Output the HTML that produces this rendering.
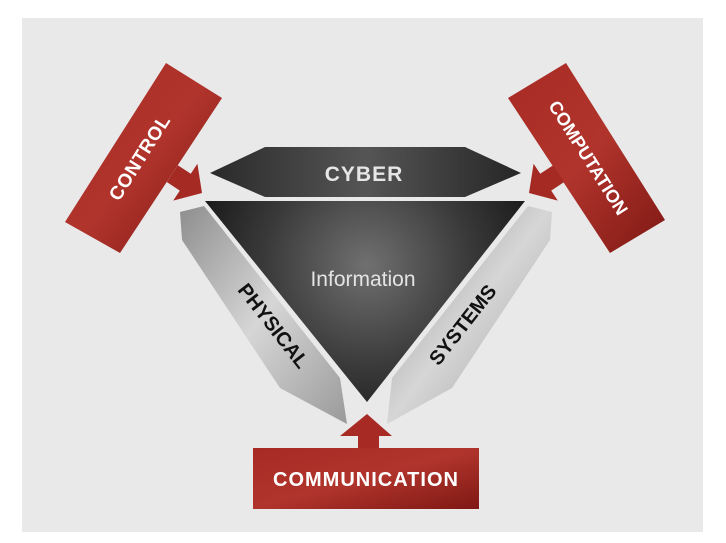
<!DOCTYPE html>
<html><head><style>
html,body{margin:0;padding:0;background:#fff;}
svg{display:block;}
text{font-family:"Liberation Sans",sans-serif;font-weight:bold;}
</style></head><body>
<svg width="726" height="543" viewBox="0 0 726 543" xmlns="http://www.w3.org/2000/svg">
<defs>
<radialGradient id="dk" cx="367" cy="265" r="170" gradientUnits="userSpaceOnUse">
<stop offset="0" stop-color="#707070"/><stop offset="0.6" stop-color="#3a3a3a"/><stop offset="1" stop-color="#1c1c1c"/></radialGradient>
<linearGradient id="cy" x1="210" y1="0" x2="521" y2="0" gradientUnits="userSpaceOnUse">
<stop offset="0" stop-color="#2a2a2a"/><stop offset="0.5" stop-color="#555"/><stop offset="1" stop-color="#262626"/></linearGradient>
<linearGradient id="rd" x1="0" y1="0" x2="1" y2="1">
<stop offset="0" stop-color="#a82a24"/><stop offset="0.5" stop-color="#b0342c"/><stop offset="1" stop-color="#7f1814"/></linearGradient>
<linearGradient id="gy" x1="0" y1="0" x2="1" y2="1">
<stop offset="0" stop-color="#8e8e8e"/><stop offset="0.5" stop-color="#d6d6d6"/><stop offset="1" stop-color="#9a9a9a"/></linearGradient>
</defs>
<rect x="22" y="18" width="681" height="514" fill="#e9e9e9"/>
<!-- CYBER -->
<polygon points="210,173 265,147 465,147 521,173 465,197 265,197" fill="url(#cy)"/>
<text x="364" y="181" font-size="21" fill="#e6e6e6" text-anchor="middle" letter-spacing="1">CYBER</text>
<!-- Triangle -->
<polygon points="205,201 525,201 367,402" fill="url(#dk)"/>
<text x="363" y="286" font-size="21" fill="#e4e4e4" text-anchor="middle" style="font-weight:normal">Information</text>
<!-- Physical -->
<polygon points="180,212 204,206 340,378 347,424 280,388 182,240" fill="url(#gy)"/>
<text transform="translate(268,330) rotate(52)" font-size="20" fill="#111" text-anchor="middle">PHYSICAL</text>
<!-- Systems -->
<polygon points="552,212 528,206 392,378 387,424 452,388 550,240" fill="url(#gy)"/>
<text transform="translate(468,329) rotate(-52)" font-size="20" fill="#111" text-anchor="middle">SYSTEMS</text>
<!-- Control -->
<polygon points="166,63 222,98 120,253 65,222" fill="url(#rd)"/>
<polygon points="177.8,165.2 190.8,173.8 197.4,163.8 202,193 173.2,200.6 179.8,190.6 166.8,182" fill="#a52a23"/>
<text transform="translate(145,161) rotate(-57.6)" font-size="19" fill="#fff" text-anchor="middle" letter-spacing="0.5">CONTROL</text>
<!-- Computation -->
<polygon points="566,63 508,98 610,253 665,220" fill="url(#rd)"/>
<polygon points="553.2,165.2 540.2,173.8 533.6,163.8 529,193 557.8,200.6 551.2,190.6 564.2,182" fill="#a52a23"/>
<text transform="translate(583,161) rotate(57.6)" font-size="18" fill="#fff" text-anchor="middle">COMPUTATION</text>
<!-- Communication -->
<polygon points="367,414 392,436 379,436 379,449 358,449 358,436 340,436" fill="#a82a24"/>
<rect x="253" y="448" width="226" height="61" fill="url(#rd)"/>
<text x="366" y="486" font-size="20" fill="#fff" text-anchor="middle" letter-spacing="1">COMMUNICATION</text>
</svg>
</body></html>
